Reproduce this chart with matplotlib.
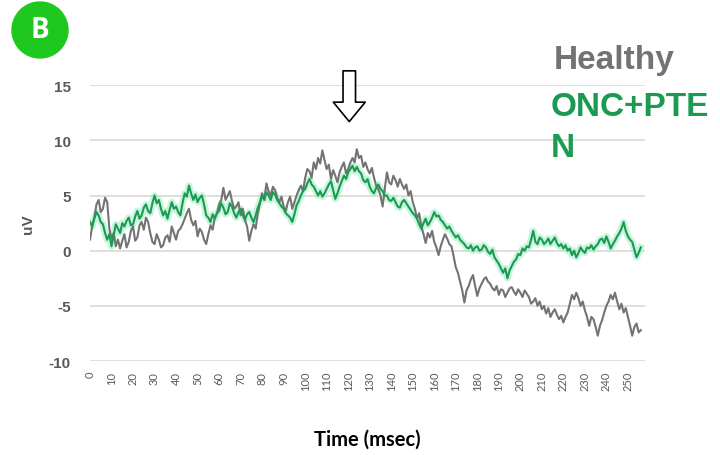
import matplotlib.pyplot as plt
import numpy as np
from matplotlib.patches import Ellipse

# Time axis, 1 msec per sample
time_ms = np.arange(0, 257)

healthy = [
    1.0, 2.2, 3.0, 4.2, 4.6, 3.5, 3.8, 4.8, 4.4, 2.0,
    1.1, 1.6, 0.4, 1.0, 0.2, 0.9, 1.5, 0.3, 0.8, 1.8,
    2.2, 0.9, 1.2, 2.3, 2.6, 1.9, 3.0, 2.6, 1.6, 0.8,
    0.6, 1.5, 1.0, 0.3, 0.5, 1.2, 1.4, 0.8, 2.2, 1.6,
    1.0, 1.8, 2.0, 2.4, 2.9, 3.4, 3.8, 2.8, 2.3, 2.7,
    1.3, 2.0, 1.7, 1.0, 0.6, 1.5, 2.3, 1.9, 3.0, 3.4,
    4.2, 4.6, 5.7, 4.6, 5.0, 5.4, 4.5, 3.8, 4.0, 4.4,
    3.2, 3.8, 2.8, 2.2, 0.9, 1.8, 2.4, 2.0, 3.4, 4.3,
    5.2, 4.6, 6.1, 5.4, 5.0, 5.8, 5.5, 4.8, 4.4, 4.9,
    4.0, 3.6, 4.4, 4.9, 3.8, 4.4, 5.0, 5.5, 5.9, 5.4,
    6.6, 7.4, 7.2, 6.6, 8.0, 7.4, 8.4, 7.9, 9.1, 8.2,
    7.4, 7.8, 6.5, 7.3, 6.8, 6.2, 7.1, 7.6, 8.0, 7.0,
    7.4, 8.0, 8.4, 8.0, 9.2, 8.4, 8.6, 7.6, 8.0, 7.4,
    7.0, 7.5, 6.6, 5.9, 5.6, 5.0, 4.0, 5.6, 7.1, 6.2,
    6.0, 6.8, 6.4, 5.8, 6.5, 6.0, 5.6, 6.0, 5.0, 5.4,
    4.4, 3.8, 2.9, 3.4, 2.2, 1.5, 0.7, 1.6, 1.2, 1.8,
    0.8, 0.3, -0.4, 0.4, 1.0, 1.5, 1.1, 0.6, 0.4, -0.5,
    -1.5, -2.0, -2.8, -3.6, -4.7, -3.6, -3.2, -2.6, -2.2, -3.2,
    -4.1, -3.4, -3.0, -2.6, -2.4, -2.8, -3.0, -3.4, -3.6, -3.2,
    -4.0, -3.5, -3.6, -4.2, -3.8, -3.4, -3.3, -3.7, -4.0, -3.5,
    -3.8, -4.2, -3.6, -3.9, -4.2, -4.8, -4.6, -4.3, -5.0, -4.6,
    -5.3, -5.0, -5.7, -5.2, -6.0, -5.6, -5.3, -5.8, -6.2, -5.9,
    -6.5, -6.0, -5.6, -4.8, -4.0, -4.4, -3.8, -4.3, -5.0, -4.6,
    -5.4, -6.0, -6.8, -6.0, -6.2, -6.9, -7.7, -6.8, -6.3, -5.6,
    -5.0, -4.6, -4.0, -4.4, -3.8, -4.6, -5.3, -4.8, -5.6, -5.2,
    -6.0, -6.8, -7.7, -6.9, -6.6, -7.4, -7.2,
]

onc_pten = [
    2.6, 2.2, 2.9, 3.5, 3.2, 2.6, 2.4, 1.6, 1.0, 1.5,
    0.4, 1.4, 2.4, 2.0, 1.6, 2.5, 2.2, 2.7, 3.0, 2.3,
    2.4, 3.1, 3.6, 2.9, 3.2, 3.9, 4.2, 3.6, 3.4, 4.3,
    5.0, 4.3, 4.6, 3.8, 3.2, 3.6, 2.9, 3.7, 4.4, 3.8,
    4.0, 3.5, 3.2, 4.3, 5.2, 4.9, 5.9, 5.2, 4.6, 5.1,
    4.4, 4.8, 5.0, 4.2, 3.2, 3.0, 2.6, 3.3, 2.9, 3.4,
    3.6, 4.3, 3.9, 3.3, 3.5, 4.3, 4.0, 3.4, 3.0, 3.5,
    3.8, 3.2, 2.8, 3.3, 3.5, 3.0, 2.6, 3.2, 3.9, 4.4,
    5.0, 4.6, 5.3, 5.0, 4.6, 5.3, 5.1, 4.6, 4.3, 4.0,
    3.8, 3.4, 3.2, 3.0, 2.6, 3.3, 4.1, 4.5, 5.0, 5.4,
    5.6, 6.1, 6.5, 6.0, 5.8, 5.4, 5.0, 5.4, 4.9, 5.2,
    5.6, 6.0, 6.3, 5.5, 4.7, 5.2, 5.8, 6.3, 6.8, 6.5,
    7.1, 7.4, 7.7, 7.2, 7.6, 7.2, 7.0, 6.4, 6.2, 6.5,
    5.8, 5.4, 5.2, 5.7, 6.0, 5.6, 5.4, 5.0, 5.0, 4.6,
    4.5, 4.8, 4.4, 4.0, 3.9, 4.4, 4.6, 4.3, 4.0, 3.7,
    3.4, 3.2, 2.9, 2.4, 2.0, 2.5, 2.9, 2.3, 2.6, 3.0,
    3.5, 3.1, 3.2, 2.8, 2.6, 2.3, 2.0, 2.2, 1.8, 1.5,
    1.2, 1.4, 1.0, 0.8, 0.6, 0.3, 0.2, 0.5, 0.0, 0.3,
    0.4, 0.0, 0.1, 0.5, 0.3, -0.1, -0.3, 0.1, -0.6, -0.9,
    -1.2, -1.6, -2.0, -1.6, -2.5, -1.8, -1.4, -1.0, -0.8, -0.3,
    -0.4, 0.2, 0.0, 0.4, 0.3, 1.0, 1.8, 0.8, 0.6, 1.2,
    1.0, 0.6, 0.8, 1.1, 0.6, 0.9, 1.2, 0.7, 0.4, 0.6,
    0.2, 0.5, 0.0, 0.2, -0.4, 0.0, -0.6, -0.2, 0.3, 0.0,
    -0.2, 0.3, 0.2, 0.5, 0.1, 0.4, 0.6, 1.0, 1.1, 0.7,
    1.3, 0.8, 0.2, 0.6, 0.9, 1.3, 1.6, 2.0, 2.6, 1.8,
    1.3, 1.0, 0.8, 0.1, -0.6, -0.2, 0.3,
]

y_ticks = [-10, -5, 0, 5, 10, 15]
x_ticks = list(range(0, 251, 10))

grey = '#737373'
green = '#1b9a52'
label_grey = '#595959'

fig = plt.figure(figsize=(7.2, 4.56), dpi=100)
ax = fig.add_axes([0.125, 0.206, 0.771, 0.605])

ax.set_axisbelow(True)
ax.yaxis.grid(True, color='#d9d9d9', linewidth=1.2)
ax.xaxis.grid(False)

# soft halo under the green trace, then both traces
ax.plot(time_ms, onc_pten, color='#a6efc9', linewidth=5, alpha=0.6, solid_joinstyle='round')
ax.plot(time_ms, healthy, color=grey, linewidth=1.5)
ax.plot(time_ms, onc_pten, color=green, linewidth=1.5)

ax.set_xlim(0, 258)
ax.set_ylim(-10, 15)
ax.set_yticks(y_ticks)
ax.set_xticks(x_ticks)
ax.set_xticklabels([str(t) for t in x_ticks], rotation=90, fontsize=8,
                   color=label_grey, family='Lato')
ax.set_yticklabels([str(t) for t in y_ticks], fontsize=11, fontweight='bold',
                   color=label_grey, family='Liberation Sans')
ax.tick_params(axis='both', length=0)
ax.tick_params(axis='y', pad=14)
ax.tick_params(axis='x', pad=7)

for spine in ax.spines.values():
    spine.set_visible(False)

ax.set_ylabel('uV', fontsize=11, fontweight='bold', color=label_grey,
              family='Liberation Sans')
ax.yaxis.set_label_coords(-0.099, 0.5)

fig.text(0.51, 1 - 440 / 456, 'Time (msec)', ha='center', va='center',
         fontsize=14.5, fontweight='bold', family='Lato', color='black')

# hollow arrow marking the peak
ax.annotate('', xy=(120.5, 11.7), xytext=(120.5, 16.3),
            arrowprops=dict(arrowstyle='simple,head_length=0.7,head_width=1.15,tail_width=0.45',
                            fc='white', ec='black', lw=1.2, shrinkA=0, shrinkB=0,
                            mutation_scale=20),
            annotation_clip=False)

# series names
fig.text(554 / 720, 1 - 60 / 456, 'Healthy', ha='left', va='center', fontsize=24,
         fontweight='bold', color=grey, family='Liberation Sans')
fig.text(551 / 720, 1 - 107 / 456, 'ONC+PTE', ha='left', va='center', fontsize=24,
         fontweight='bold', color=green, family='Liberation Sans')
fig.text(551 / 720, 1 - 149 / 456, 'N', ha='left', va='center', fontsize=24,
         fontweight='bold', color=green, family='Liberation Sans')

# panel badge
badge = Ellipse((40 / 720, 1 - 31 / 456), 56 / 720, 56 / 456,
                transform=fig.transFigure, color='#1ec81e')
fig.patches.append(badge)
fig.text(40 / 720, 1 - 31 / 456, 'B', ha='center', va='center', fontsize=20,
         fontweight='bold', color='white', family='Open Sans')

fig.savefig('out.png', dpi=100)
